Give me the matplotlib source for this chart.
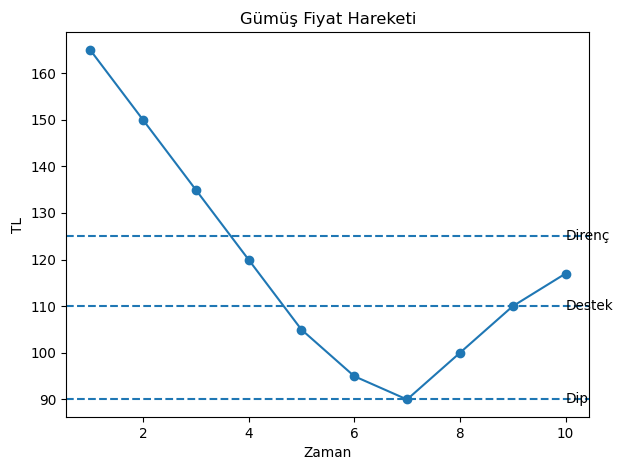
import matplotlib
matplotlib.use("Agg")
import matplotlib.pyplot as plt

zaman = [1, 2, 3, 4, 5, 6, 7, 8, 9, 10]
fiyat = [165, 150, 135, 120, 105, 95, 90, 100, 110, 117]

seviye_adlari = ["Direnç", "Destek", "Dip"]
seviyeler = [125, 110, 90]

plt.rcParams['font.size'] = 9.8

fig, ax = plt.subplots(figsize=(6.29, 4.7), dpi=100)
ax.plot(zaman, fiyat, marker='o')

for ad, y in zip(seviye_adlari, seviyeler):
    ax.axhline(y, linestyle='--')
    ax.text(zaman[-1], y, ad, va='center')

ax.set_title('Gümüş Fiyat Hareketi')
ax.set_xlabel('Zaman')
ax.set_ylabel('TL')
fig.subplots_adjust(left=0.1054, right=0.9369, top=0.9313, bottom=0.1128)
plt.savefig('out.png')
